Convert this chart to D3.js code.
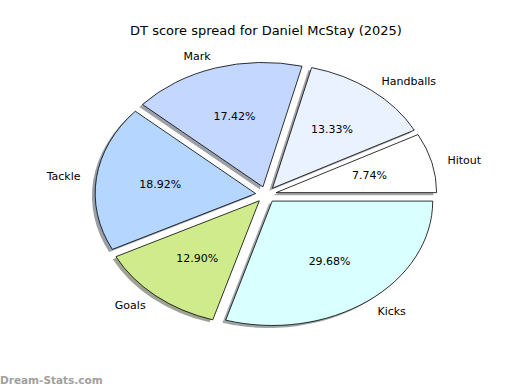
<!DOCTYPE html>
<html><head><meta charset="utf-8">
<script src="https://cdn.jsdelivr.net/npm/d3@7"></script>
<style>body{margin:0;background:#fff}svg{display:block}text{font-family:"DejaVu Sans",sans-serif}</style>
</head><body>
<svg id="c" width="520" height="390"></svg>
<script>
const categories = ["Hitout","Handballs","Mark","Tackle","Goals","Kicks"];
const values = [36, 62, 81, 88, 60, 138];
const colors = ["#ffffff","#eaf1ff","#c4d8ff","#b4d6ff","#d0eb8b","#d9ffff"];
const title = "DT score spread for Daniel McStay (2025)";

const W = 520, H = 390;
const cx = 266, cy = 194.6, rx = 160.5, ry = 124.4;
const explode = 0.065;
const svg = d3.select("#c");

const x = d3.scaleLinear().domain([-1, 1]).range([cx - rx, cx + rx]);
const y = d3.scaleLinear().domain([-1, 1]).range([cy + ry, cy - ry]);

const pie = d3.pie().sort(null).startAngle(Math.PI/2).endAngle(Math.PI/2 - 2*Math.PI);
const arcs = pie(values);
const arc = d3.arc().innerRadius(0).outerRadius(1);
const total = d3.sum(values);

function mid(d){ const a = (d.startAngle + d.endAngle)/2; return {c: Math.sin(a), s: Math.cos(a)}; }

const g = svg.append("g");
arcs.forEach((d,i)=>{
  const m = mid(d);
  const ox = x(explode*m.c - 0.02) , oy = y(explode*m.s - 0.02);
  const col = d3.rgb(colors[i]);
  g.append("path").attr("d", arc(d))
    .attr("transform", `translate(${ox},${oy}) scale(${rx},${ry})`)
    .attr("fill", d3.rgb(col.r*0.3, col.g*0.3, col.b*0.3))
    .attr("fill-opacity", 0.5);
});
arcs.forEach((d,i)=>{
  const m = mid(d);
  const ox = x(explode*m.c), oy = y(explode*m.s);
  g.append("path").attr("d", arc(d))
    .attr("transform", `translate(${ox},${oy}) scale(${rx},${ry})`)
    .attr("fill", colors[i]).attr("stroke", "#000").attr("stroke-width", 0.8)
    .attr("vector-effect", "non-scaling-stroke").attr("stroke-linejoin","miter");
});
arcs.forEach((d,i)=>{
  const m = mid(d);
  const lx = x(explode*m.c + 1.1*m.c), ly = y(explode*m.s + 1.1*m.s);
  svg.append("text").attr("x", lx).attr("y", ly).attr("dy","0.36em")
    .attr("text-anchor", m.c >= 0 ? "start" : "end")
    .attr("font-size", 11).attr("fill","#000").text(categories[i]);
  const px = x(explode*m.c + 0.6*m.c), py = y(explode*m.s + 0.6*m.s);
  svg.append("text").attr("x", px).attr("y", py).attr("dy","0.36em")
    .attr("text-anchor","middle").attr("font-size", 11).attr("fill","#000")
    .text((values[i]/total*100).toFixed(2) + "%");
});
svg.append("text").attr("x", 266).attr("y", 30).attr("dy","0.36em")
  .attr("text-anchor","middle").attr("font-size", 13).text(title);
svg.append("text").attr("x", 0).attr("y", 380).attr("dy","0.36em")
  .attr("font-size", 10.5).attr("fill","#a0a0a0").attr("font-weight","bold").text("Dream-Stats.com");
</script>
</body></html>
